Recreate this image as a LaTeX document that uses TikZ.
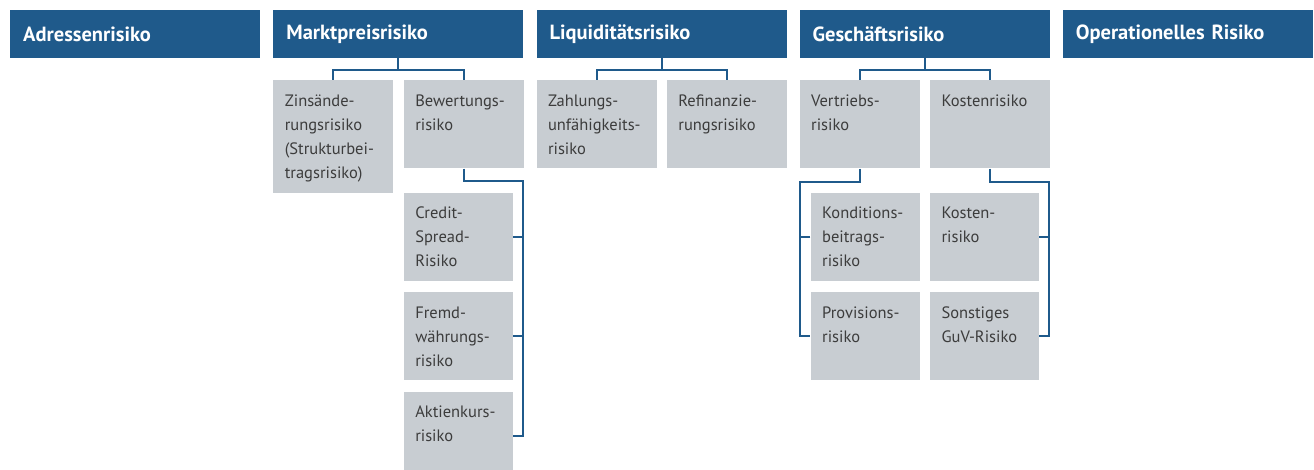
\documentclass[tikz,border=0pt]{standalone}
\usepackage{fontspec}
\setmainfont{PT Sans}
\usetikzlibrary{positioning,calc}
\definecolor{riskblue}{HTML}{1F5A8B}
\definecolor{cellgrey}{HTML}{C8CDD2}
\definecolor{cellink}{HTML}{3C3C3C}
\begin{document}
\begin{tikzpicture}[
    x=1pt,y=-1pt,
    head/.style={fill=riskblue,text=white,font=\fontsize{20.5}{24}\selectfont\bfseries,
      text width=224pt,inner xsep=13pt,minimum height=48pt,align=left},
    cell/.style={fill=cellgrey,text=cellink,font=\fontsize{16.5}{24}\selectfont,
      text width=97pt,inner xsep=11.5pt,inner ysep=0pt,text height=26pt,text depth=62pt,align=left},
    subcell/.style={cell,text width=86pt},
    link/.style={riskblue,line width=2pt}]
  \useasboundingbox (0,0) rectangle (1314,470);
  % Risikoarten
  \node[head,anchor=west] (adr) at (10,34) {Adressenrisiko};
  \node[head,right=12.75pt of adr] (markt) {Marktpreisrisiko};
  \node[head,right=12.75pt of markt] (liqu) {Liquiditätsrisiko};
  \node[head,right=12.75pt of liqu] (gesch) {Geschäftsrisiko};
  \node[head,right=12.75pt of gesch] (oper) {Operationelles Risiko};
  % Marktpreisrisiko
  \node[cell,below right=22pt and 0pt of markt.south west,text depth=87pt] (zins)
    {Zinsände-\\rungsrisiko\\(Strukturbei-\\tragsrisiko)};
  \node[cell,right=10pt of zins.north east,anchor=north west] (bew) {Bewertungs-\\risiko};
  \node[subcell,below=24pt of bew.south west,anchor=north west] (credit) {Credit-\\Spread-\\Risiko};
  \node[subcell,below=11pt of credit] (fremd) {Fremd-\\währungs-\\risiko};
  \node[subcell,below=11pt of fremd] (aktien) {Aktienkurs-\\risiko};
  % Liquiditaetsrisiko
  \node[cell,below right=22pt and 0pt of liqu.south west] (zahl) {Zahlungs-\\unfähigkeits-\\risiko};
  \node[cell,right=10pt of zahl] (refi) {Refinanzie-\\rungsrisiko};
  % Geschaeftsrisiko
  \node[cell,below right=22pt and 0pt of gesch.south west] (vert) {Vertriebs-\\risiko};
  \node[cell,right=10pt of vert] (kost) {Kostenrisiko};
  \node[subcell,below=24pt of vert.south west,anchor=north west,xshift=11pt] (kond) {Konditions-\\beitrags-\\risiko};
  \node[subcell,below=11pt of kond] (prov) {Provisions-\\risiko};
  \node[subcell,below=24pt of kost.south west,anchor=north west] (kost2) {Kosten-\\risiko};
  \node[subcell,below=11pt of kost2] (sgv) {Sonstiges\\GuV-Risiko};
  % Verbindungen
  \draw[link] (markt.south) -- ++(0,12) -| (zins.north);
  \draw[link] (markt.south) -- ++(0,12) -| (bew.north);
  \draw[link] (liqu.south) -- ++(0,12) -| (zahl.north);
  \draw[link] (liqu.south) -- ++(0,12) -| (refi.north);
  \draw[link] (gesch.south) -- ++(0,12) -| (vert.north);
  \draw[link] (gesch.south) -- ++(0,12) -| (kost.north);
  \coordinate (brail) at ($(credit.east)+(10,0)$);
  \draw[link] (bew.south) -- ++(0,12) -| (brail |- aktien.east) -- (aktien.east);
  \draw[link] (credit.east) -- (brail);
  \draw[link] (fremd.east) -- (fremd.east -| brail);
  \coordinate (vrail) at ($(kond.west)+(-10,0)$);
  \draw[link] (vert.south) -- ++(0,13) -| (vrail |- prov.west) -- (prov.west);
  \draw[link] (kond.west) -- (vrail);
  \coordinate (krail) at ($(kost2.east)+(10,0)$);
  \draw[link] (kost.south) -- ++(0,13) -| (krail |- sgv.east) -- (sgv.east);
  \draw[link] (kost2.east) -- (krail);
\end{tikzpicture}
\end{document}
